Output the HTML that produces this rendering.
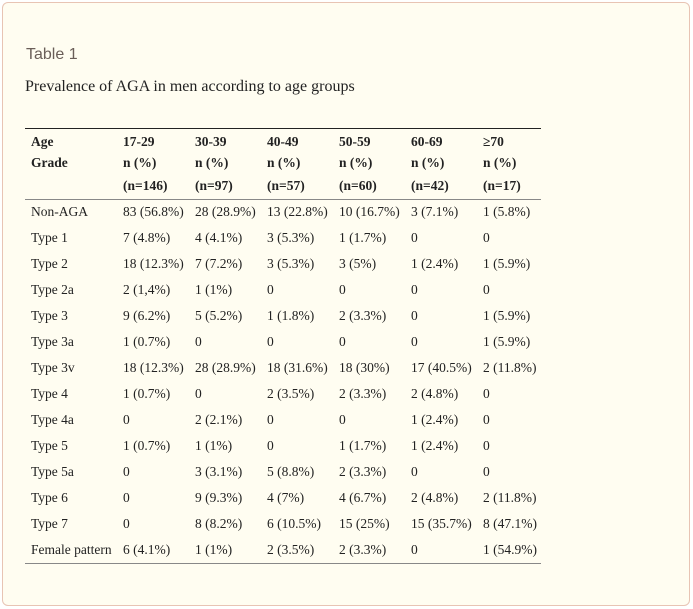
<!DOCTYPE html>
<html><head><style>
body{margin:0;width:693px;height:609px;background:#fff;position:relative;overflow:hidden}
.box{position:absolute;left:2px;top:2px;width:686px;height:602px;border:1px solid #e8c4b4;border-radius:6px;background:#fffdf1}
.t{position:absolute;white-space:nowrap;font-family:"Liberation Serif",serif;font-size:13.5px;color:#222;line-height:16px}
.b{font-weight:bold}
.ln{position:absolute;left:25px;width:516px;height:1px}
</style></head><body>
<div class="box"></div>
<div class="t" style="left:26px;top:45px;font-family:'Liberation Sans',sans-serif;font-size:16px;color:#6a5e58;line-height:20px">Table 1</div>
<div class="t" style="left:25px;top:78px;font-size:16px;line-height:18px">Prevalence of AGA in men according to age groups</div>
<div class="ln" style="top:128px;background:#222"></div>
<div class="ln" style="top:199px;background:#888"></div>
<div class="ln" style="top:563px;background:#888"></div>
<div id="c"></div>
<script>
var xs=[31,123,195,267,339,411,483];
var hdr=[["Age","Grade",""],["17-29","n (%)","(n=146)"],["30-39","n (%)","(n=97)"],["40-49","n (%)","(n=57)"],["50-59","n (%)","(n=60)"],["60-69","n (%)","(n=42)"],["≥70","n (%)","(n=17)"]];
var rows=[["Non-AGA","83 (56.8%)","28 (28.9%)","13 (22.8%)","10 (16.7%)","3 (7.1%)","1 (5.8%)"],
["Type 1","7 (4.8%)","4 (4.1%)","3 (5.3%)","1 (1.7%)","0","0"],
["Type 2","18 (12.3%)","7 (7.2%)","3 (5.3%)","3 (5%)","1 (2.4%)","1 (5.9%)"],
["Type 2a","2 (1,4%)","1 (1%)","0","0","0","0"],
["Type 3","9 (6.2%)","5 (5.2%)","1 (1.8%)","2 (3.3%)","0","1 (5.9%)"],
["Type 3a","1 (0.7%)","0","0","0","0","1 (5.9%)"],
["Type 3v","18 (12.3%)","28 (28.9%)","18 (31.6%)","18 (30%)","17 (40.5%)","2 (11.8%)"],
["Type 4","1 (0.7%)","0","2 (3.5%)","2 (3.3%)","2 (4.8%)","0"],
["Type 4a","0","2 (2.1%)","0","0","1 (2.4%)","0"],
["Type 5","1 (0.7%)","1 (1%)","0","1 (1.7%)","1 (2.4%)","0"],
["Type 5a","0","3 (3.1%)","5 (8.8%)","2 (3.3%)","0","0"],
["Type 6","0","9 (9.3%)","4 (7%)","4 (6.7%)","2 (4.8%)","2 (11.8%)"],
["Type 7","0","8 (8.2%)","6 (10.5%)","15 (25%)","15 (35.7%)","8 (47.1%)"],
["Female pattern","6 (4.1%)","1 (1%)","2 (3.5%)","2 (3.3%)","0","1 (54.9%)"]];
var h="";
hdr.forEach(function(c,i){var hy=[134,155,178];c.forEach(function(s,j){h+='<div class="t b" style="left:'+xs[i]+'px;top:'+hy[j]+'px">'+s+'</div>';});});
rows.forEach(function(r,k){r.forEach(function(s,i){h+='<div class="t" style="left:'+(i==0?31:xs[i])+'px;top:'+(204+26*k)+'px">'+s+'</div>';});});
document.getElementById('c').innerHTML=h;
</script>
</body></html>
